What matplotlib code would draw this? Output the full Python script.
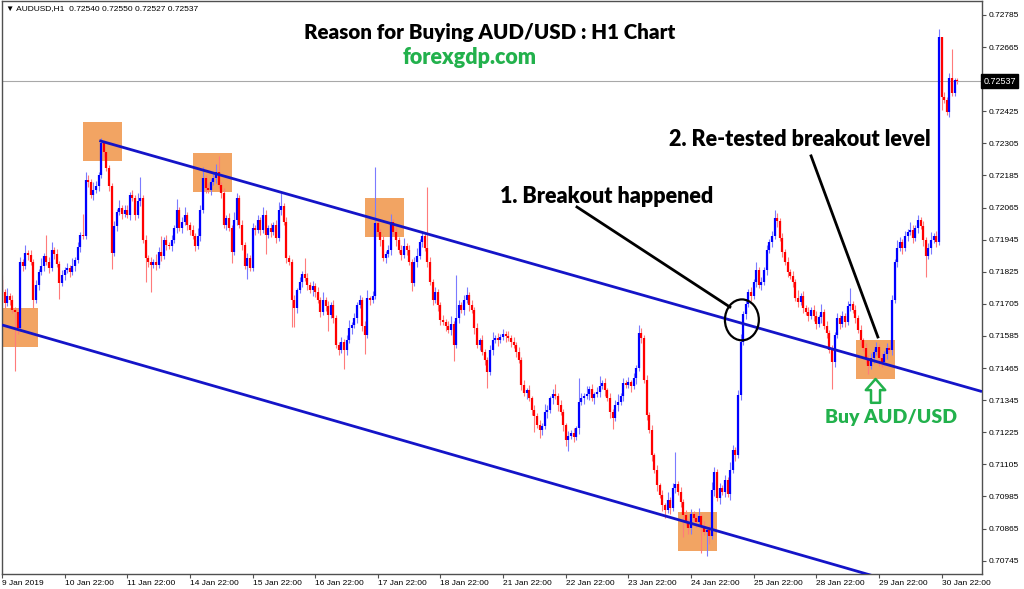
import numpy as np
import matplotlib.pyplot as plt
from matplotlib.patches import Rectangle, Ellipse

# AUDUSD H1, 9 Jan - 30 Jan 2019, one row per trading day (24 bars)
first_open = 0.71794
close = [
    0.71749, 0.71708, 0.71734, 0.71719, 0.71682, 0.71674, 0.71614, 0.71861, 0.71846, 0.71895, 0.71887, 0.71861,
    0.71719, 0.71775, 0.71824, 0.71846, 0.71884, 0.71861, 0.71839, 0.71906, 0.71891, 0.71854, 0.71783, 0.71813,
    0.71831, 0.71839, 0.71824, 0.71846, 0.71869, 0.71917, 0.71962, 0.71958, 0.72168, 0.72160, 0.72112, 0.72130,
    0.72145, 0.72187, 0.72306, 0.72273, 0.72213, 0.72145, 0.71895, 0.71996, 0.72048, 0.72063, 0.72041, 0.72056,
    0.72037, 0.72112, 0.72100, 0.72037, 0.72089, 0.72100, 0.71943, 0.71876, 0.71861, 0.71850, 0.71861, 0.71850,
    0.71899, 0.71884, 0.71943, 0.71925, 0.71921, 0.71943, 0.71988, 0.72056, 0.71988, 0.72011, 0.72037, 0.72000,
    0.71981, 0.71958, 0.71921, 0.71958, 0.72056, 0.72175, 0.72138, 0.72130, 0.72160, 0.72175, 0.72198, 0.72149,
    0.72119, 0.72000, 0.72026, 0.71988, 0.71899, 0.72018, 0.72100, 0.72000, 0.71925, 0.71846, 0.71876, 0.71839,
    0.71988, 0.71981, 0.72018, 0.71981, 0.72037, 0.71962, 0.71988, 0.71973, 0.72000, 0.71951, 0.72056, 0.72071,
    0.72011, 0.71876, 0.71861, 0.71719, 0.71689, 0.71756, 0.71786, 0.71816, 0.71801, 0.71775, 0.71756, 0.71771,
    0.71749, 0.71719, 0.71674, 0.71719, 0.71697, 0.71663, 0.71700, 0.71652, 0.71551, 0.71532, 0.71562, 0.71532,
    0.71569, 0.71614, 0.71626, 0.71652, 0.71700, 0.71719, 0.71622, 0.71588, 0.71726, 0.71719, 0.71734, 0.72007,
    0.71973, 0.71943, 0.71876, 0.71891, 0.71906, 0.72011, 0.71973, 0.71943, 0.71906, 0.71887, 0.71921, 0.71906,
    0.71861, 0.71783, 0.71861, 0.71884, 0.71936, 0.71958, 0.71913, 0.71861, 0.71786, 0.71719, 0.71749, 0.71700,
    0.71644, 0.71637, 0.71622, 0.71607, 0.71629, 0.71551, 0.71652, 0.71700, 0.71682, 0.71719, 0.71738, 0.71700,
    0.71682, 0.71614, 0.71551, 0.71569, 0.71525, 0.71495, 0.71450, 0.71532, 0.71569, 0.71577, 0.71569, 0.71581,
    0.71592, 0.71584, 0.71577, 0.71562, 0.71551, 0.71525, 0.71495, 0.71401, 0.71371, 0.71382, 0.71352, 0.71308,
    0.71285, 0.71251, 0.71233, 0.71248, 0.71300, 0.71308, 0.71352, 0.71367, 0.71360, 0.71326, 0.71300, 0.71251,
    0.71195, 0.71210, 0.71222, 0.71207, 0.71240, 0.71338, 0.71352, 0.71360, 0.71367, 0.71386, 0.71352, 0.71367,
    0.71375, 0.71397, 0.71409, 0.71382, 0.71352, 0.71300, 0.71278, 0.71326, 0.71338, 0.71360, 0.71409, 0.71401,
    0.71412, 0.71397, 0.71427, 0.71465, 0.71596, 0.71577, 0.71420, 0.71289, 0.71233, 0.71139, 0.71083, 0.71027,
    0.70990, 0.70952, 0.70934, 0.70972, 0.70941, 0.71016, 0.71031, 0.71001, 0.70964, 0.70915, 0.70889, 0.70866,
    0.70919, 0.70904, 0.70889, 0.70911, 0.70874, 0.70851, 0.70859, 0.70836, 0.71008, 0.71076, 0.70978, 0.71016,
    0.71001, 0.71046, 0.70993, 0.71083, 0.71158, 0.71139, 0.71364, 0.71562, 0.71667, 0.71704, 0.71749, 0.71734,
    0.71786, 0.71831, 0.71775, 0.71786, 0.71831, 0.71906, 0.71936, 0.71958, 0.72026, 0.72014, 0.71951, 0.71899,
    0.71861, 0.71824, 0.71809, 0.71786, 0.71726, 0.71712, 0.71734, 0.71689, 0.71674, 0.71659, 0.71682, 0.71659,
    0.71629, 0.71655, 0.71674, 0.71622, 0.71596, 0.71532, 0.71487, 0.71588, 0.71652, 0.71629, 0.71659, 0.71637,
    0.71697, 0.71704, 0.71682, 0.71652, 0.71607, 0.71569, 0.71539, 0.71502, 0.71472, 0.71502, 0.71525, 0.71543,
    0.71502, 0.71487, 0.71517, 0.71539, 0.71532, 0.71719, 0.71861, 0.71913, 0.71936, 0.71913, 0.71958, 0.71973,
    0.71981, 0.71951, 0.71988, 0.72018, 0.71996, 0.71943, 0.71884, 0.71913, 0.71943, 0.71958, 0.71936, 0.72703,
    0.72478, 0.72467, 0.72422, 0.72549, 0.72493, 0.72540, 0.72537,
]
# wick lengths in pips above / below the candle body
upper_wick = [
    2, 1, 3, 1, 2, 1, 0, 2, 1, 3, 1, 2, 1, 2, 1, 3, 1, 8, 2, 3, 1, 2, 1, 2,
    1, 2, 1, 3, 1, 2, 1, 8, 3, 2, 1, 3, 2, 1, 2, 1, 0, 1, 1, 2, 1, 3, 1, 2,
    2, 1, 2, 1, 3, 8, 1, 2, 1, 2, 1, 3, 2, 6, 1, 2, 1, 2, 1, 4, 1, 2, 3, 1,
    1, 2, 1, 3, 2, 4, 1, 2, 1, 2, 3, 6, 1, 2, 1, 2, 1, 3, 2, 1, 2, 1, 2, 1,
    2, 1, 2, 1, 3, 2, 1, 2, 1, 2, 3, 5, 1, 2, 1, 1, 2, 1, 2, 1, 6, 2, 1, 2,
    1, 2, 1, 3, 1, 2, 1, 2, 1, 1, 2, 1, 2, 3, 1, 2, 1, 2, 1, 2, 3, 1, 2, 21,
    2, 1, 2, 1, 2, 3, 1, 2, 1, 2, 3, 1, 2, 1, 2, 3, 1, 2, 1, 23, 2, 1, 2, 1,
    1, 2, 1, 2, 3, 1, 16, 2, 1, 2, 3, 1, 2, 1, 2, 1, 2, 1, 1, 2, 3, 1, 2, 1,
    2, 1, 2, 1, 2, 1, 2, 1, 2, 1, 2, 1, 2, 1, 2, 1, 3, 2, 1, 2, 4, 1, 2, 1,
    1, 2, 1, 2, 1, 9, 2, 1, 3, 1, 2, 1, 2, 4, 1, 2, 1, 2, 1, 2, 3, 1, 2, 1,
    2, 1, 2, 1, 3, 2, 1, 2, 1, 2, 1, 2, 1, 2, 1, 3, 1, 2, 12, 1, 2, 1, 2, 1,
    2, 1, 2, 3, 1, 2, 1, 2, 3, 2, 1, 2, 1, 2, 1, 3, 2, 1, 2, 3, 1, 2, 1, 2,
    1, 3, 1, 2, 1, 2, 1, 2, 3, 2, 1, 2, 1, 2, 1, 2, 1, 3, 1, 2, 1, 2, 1, 2,
    2, 1, 3, 1, 2, 1, 2, 1, 2, 1, 2, 1, 2, 6, 1, 2, 1, 2, 1, 2, 1, 2, 1, 2,
    1, 2, 1, 2, 1, 2, 1, 3, 2, 1, 2, 1, 3, 2, 1, 2, 1, 2, 1, 2, 3, 1, 2, 3,
    0, 2, 1, 2, 11, 1, 1,
]
lower_wick = [
    1, 2, 1, 2, 1, 22, 2, 1, 2, 1, 2, 1, 3, 1, 2, 1, 2, 1, 2, 1, 2, 1, 6, 1,
    2, 1, 2, 1, 2, 1, 2, 1, 1, 2, 1, 2, 1, 2, 1, 2, 1, 2, 6, 1, 2, 1, 2, 1,
    1, 2, 1, 2, 1, 2, 1, 9, 2, 10, 1, 2, 1, 2, 1, 2, 1, 2, 1, 2, 1, 2, 1, 2,
    2, 1, 2, 1, 2, 1, 2, 1, 2, 1, 2, 1, 2, 1, 2, 1, 4, 1, 2, 1, 2, 1, 5, 1,
    1, 2, 1, 2, 1, 7, 1, 2, 1, 2, 1, 2, 1, 2, 1, 10, 7, 2, 1, 2, 1, 2, 1, 2,
    2, 1, 2, 1, 2, 6, 1, 2, 1, 2, 1, 7, 2, 1, 2, 1, 2, 1, 2, 7, 1, 2, 1, 1,
    1, 2, 1, 2, 1, 2, 1, 2, 1, 2, 1, 2, 1, 3, 1, 2, 1, 2, 1, 2, 1, 2, 1, 2,
    2, 1, 2, 1, 2, 6, 1, 2, 1, 2, 1, 2, 1, 2, 1, 2, 1, 2, 6, 1, 2, 1, 2, 1,
    1, 2, 1, 2, 1, 2, 1, 2, 1, 2, 1, 2, 6, 1, 3, 2, 1, 2, 1, 2, 1, 2, 1, 2,
    2, 4, 1, 2, 1, 2, 1, 2, 1, 2, 1, 2, 1, 2, 1, 2, 1, 2, 4, 1, 2, 1, 2, 1,
    1, 2, 1, 2, 1, 2, 1, 2, 1, 2, 1, 2, 1, 2, 3, 1, 2, 1, 2, 1, 2, 8, 1, 2,
    2, 1, 2, 1, 10, 1, 9, 3, 1, 2, 1, 2, 1, 2, 1, 2, 1, 2, 1, 2, 1, 2, 1, 2,
    1, 2, 1, 2, 1, 2, 1, 2, 1, 2, 1, 2, 1, 2, 1, 2, 1, 2, 1, 2, 1, 2, 1, 2,
    2, 1, 2, 1, 2, 1, 10, 2, 1, 2, 1, 2, 1, 2, 1, 2, 1, 2, 1, 2, 3, 1, 2, 1,
    3, 2, 1, 2, 1, 2, 1, 2, 1, 2, 1, 2, 1, 2, 1, 2, 1, 2, 8, 1, 2, 1, 2, 1,
    5, 1, 1, 2, 1, 1, 1,
]

date_labels = ["9 Jan 2019", "10 Jan 22:00", "11 Jan 22:00", "14 Jan 22:00", "15 Jan 22:00",
               "16 Jan 22:00", "17 Jan 22:00", "18 Jan 22:00", "21 Jan 22:00", "22 Jan 22:00",
               "23 Jan 22:00", "24 Jan 22:00", "25 Jan 22:00", "28 Jan 22:00", "29 Jan 22:00",
               "30 Jan 22:00"]
date_bars = [0, 24, 48, 72, 96, 120, 144, 168, 192, 216, 240, 264, 288, 312, 336, 360]
price_ticks = [0.70745, 0.70865, 0.70985, 0.71105, 0.71225, 0.71345, 0.71465, 0.71585, 0.71705,
               0.71825, 0.71945, 0.72065, 0.72185, 0.72305, 0.72425, 0.72545, 0.72665, 0.72785]
last_price = 0.72537

# drawn objects: channel lines, highlight boxes (left bar, bottom, top), callouts
upper_line = [(37.3, 0.72315), (375.5, 0.71377)]
lower_line = [(0.0, 0.71626), (375.5, 0.70571)]
boxes = [(0.0, 0.71544, 0.71690), (31.0, 0.72239, 0.72385), (73.2, 0.72123, 0.72269),
         (139.1, 0.71955, 0.72101), (259.0, 0.70781, 0.70927), (327.2, 0.71424, 0.71570)]
pointer1 = [(220.3, 0.72067), (278.9, 0.71693)]
pointer2 = [(310.0, 0.72258), (335.6, 0.71581)]
circle_center = (283.5, 0.71645)

op = np.array([first_open] + close[:-1])
cl = np.array(close)
hi = np.maximum(op, cl) + np.array(upper_wick) * 0.0001
lo = np.minimum(op, cl) - np.array(lower_wick) * 0.0001
x = np.arange(len(cl))
bull = cl >= op

fig = plt.figure(figsize=(10.24, 5.89), dpi=100)
ax = fig.add_axes([2 / 1024, 15 / 589, 980 / 1024, 573 / 589])
ax.set_xlim(0, 375.5)
ax.set_ylim(0.70695, 0.72837)

orange = "#f2a463"
for left, bot, top in boxes:
    w = 13.8 if left == 0 else 14.9
    ax.add_patch(Rectangle((left, bot), w, top - bot, facecolor=orange, edgecolor="none", zorder=1))

ax.axhline(last_price, color="#a8a8a8", lw=0.8, zorder=1.5)

wick_col = np.where(bull, "#7b7bff", "#ff7b7b")
body_col = np.where(bull, "#0000ff", "#ff0000")
ax.vlines(x, lo, hi, colors=wick_col, lw=0.8, zorder=2)
ax.vlines(x, op, cl, colors=body_col, lw=1.6, zorder=2.5)

chan = "#1414c8"
ax.plot(*zip(*upper_line), color=chan, lw=2.0, zorder=3, solid_capstyle="butt")
ax.plot(*zip(*lower_line), color=chan, lw=2.0, zorder=3, solid_capstyle="butt")

ax.plot(*zip(*pointer1), color="black", lw=2.0, zorder=4)
ax.plot(*zip(*pointer2), color="black", lw=2.0, zorder=4)
ax.add_patch(Ellipse(circle_center, 13.0, 0.00153, fill=False, edgecolor="black", lw=1.6, zorder=4))

bold = dict(family="Lato", weight="heavy")
green = "#22b14c"
ax.text(231.8, 0.72108, "1. Breakout happened", ha="center", va="center", fontsize=15.5, color="black", **bold)
ax.text(305.7, 0.72321, "2. Re-tested breakout level", ha="center", va="center", fontsize=15.5, color="black", **bold)
ax.text(340.6, 0.71279, "Buy AUD/USD", ha="center", va="center", fontsize=14, color=green, **bold)
ax.annotate("", xy=(334.7, 0.71424), xytext=(334.7, 0.71335),
            arrowprops=dict(arrowstyle="simple,head_length=0.8,head_width=1.4,tail_width=0.65",
                            fc="white", ec=green, lw=1.8, shrinkA=0, shrinkB=0), zorder=4)

fig.text(490 / 1024, 1 - 32 / 589, "Reason for Buying AUD/USD : H1 Chart", ha="center", va="center",
         fontsize=14.8, color="black", **bold)
fig.text(470 / 1024, 1 - 57 / 589, "forexgdp.com", ha="center", va="center",
         fontsize=15.5, color=green, **bold)

ax.text(0.004, 0.993, "\u25bc AUDUSD,H1  0.72540 0.72550 0.72527 0.72537", transform=ax.transAxes,
        ha="left", va="top", fontsize=6, family=["Liberation Sans", "DejaVu Sans"])

# axes frame and ticks in terminal style
for s in ax.spines.values():
    s.set_color("#505050")
    s.set_linewidth(1.0)
ax.yaxis.tick_right()
ax.set_yticks(price_ticks)
# the 0.72545 label sits under the current price box
ax.set_yticklabels(["" if abs(p - last_price) < 0.0003 else f"{p:.5f}" for p in price_ticks],
                   fontsize=6, family="Liberation Sans")
ax.set_xticks(date_bars)
ax.set_xticklabels(date_labels, fontsize=6, family="Liberation Sans", ha="left")
ax.tick_params(axis="both", length=3, width=0.8, color="#505050", pad=1.5)

ax.text(1.0015, last_price, f"{last_price:.5f}", transform=ax.get_yaxis_transform(), ha="left", va="center",
        fontsize=6.5, family="Liberation Sans", color="white", zorder=10, clip_on=False,
        bbox=dict(boxstyle="square,pad=0.25", fc="black", ec="black"))

fig.savefig("out.png", dpi=100)
